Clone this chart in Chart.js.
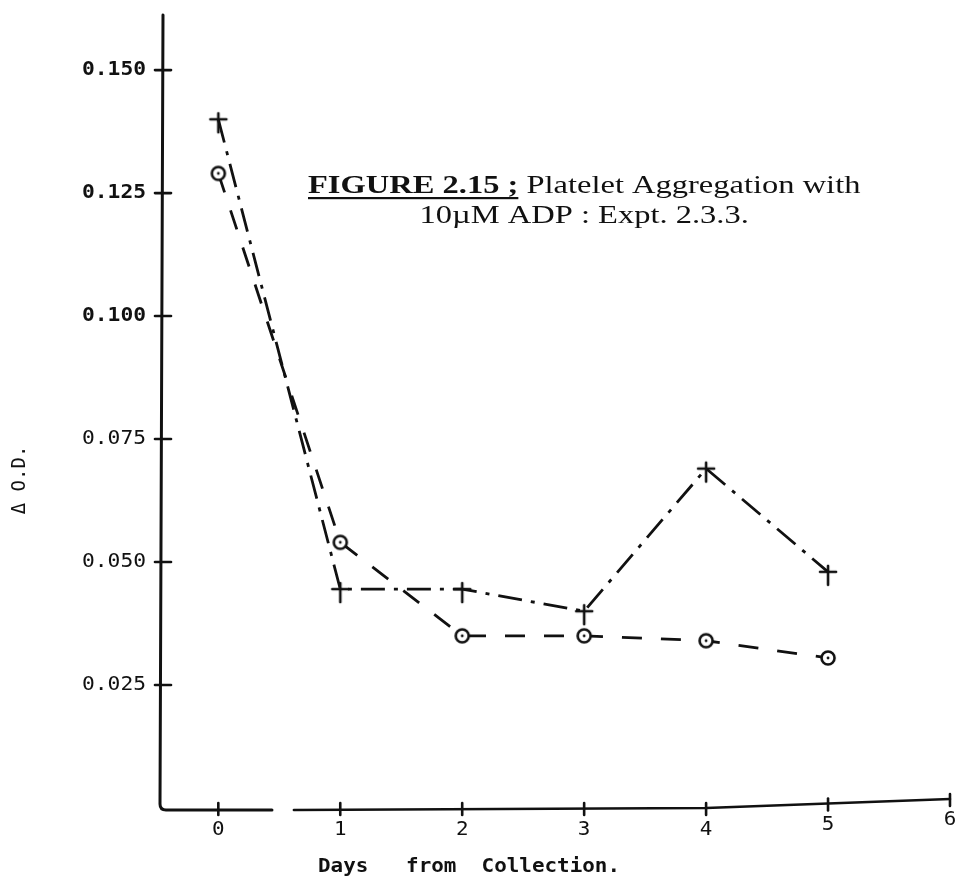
<!DOCTYPE html>
<html lang="en">
<head>
  <meta charset="UTF-8" />
  <title>Platelet Aggregation with 10µM ADP</title>
  <script src="https://cdn.jsdelivr.net/npm/chart.js"></script>
  <style>
    body { margin: 0; background: #fff; }
    #wrap { width: 962px; height: 881px; }
  </style>
</head>
<body>
  <div id="wrap"><canvas id="chartAgg" width="962" height="881"></canvas></div>

  <script>
    // days after collection and the two Δ O.D. series
    const days = [0, 1, 2, 3, 4, 5];
    const odCircle = [0.129, 0.054, 0.035, 0.035, 0.034, 0.0305];
    const odCross = [0.140, 0.0445, 0.0445, 0.040, 0.069, 0.048];

    const xTicks = [0, 1, 2, 3, 4, 5, 6];
    const xTickLabels = ['0', '1', '2', '3', '4', '5', '6'];
    const yTicks = [0.025, 0.050, 0.075, 0.100, 0.125, 0.150];
    const yTickLabels = ['0.025', '0.050', '0.075', '0.100', '0.125', '0.150'];

    const INK = '#111';
    const MONO = '"DejaVu Sans Mono"';
    const SERIF = '"Liberation Serif"';

    // circle with a dot in the middle
    function makeCircleMark() {
      const c = document.createElement('canvas');
      c.width = 20; c.height = 20;
      const g = c.getContext('2d');
      g.fillStyle = '#fff';
      g.strokeStyle = INK;
      g.lineWidth = 2.6;
      g.beginPath(); g.arc(10, 10, 6.5, 0, Math.PI * 2); g.fill(); g.stroke();
      g.fillStyle = INK;
      g.beginPath(); g.arc(10, 10, 1.4, 0, Math.PI * 2); g.fill();
      return c;
    }

    // dagger-like cross, bar sits on the data point
    function makeCrossMark() {
      const c = document.createElement('canvas');
      c.width = 24; c.height = 36;
      const g = c.getContext('2d');
      g.strokeStyle = INK;
      g.lineWidth = 2.6;
      g.lineCap = 'round';
      g.beginPath(); g.moveTo(4, 18); g.lineTo(20, 18); g.stroke();
      g.beginPath(); g.moveTo(12, 12); g.lineTo(12, 31); g.stroke();
      return c;
    }

    function drawText(ctx, text, x, y, font, align, sx) {
      ctx.save();
      ctx.translate(x, y);
      ctx.scale(sx || 1, 1);
      ctx.font = font;
      ctx.textAlign = align;
      ctx.fillText(text, 0, 0);
      ctx.restore();
    }

    const paperAxes = {
      id: 'paperAxes',
      beforeDatasetsDraw(chart) {
        const ctx = chart.ctx;
        const xs = chart.scales.x, ys = chart.scales.y;
        const a = chart.chartArea;
        ctx.save();
        ctx.strokeStyle = INK;
        ctx.lineCap = 'round';
        ctx.lineJoin = 'round';

        // y axis
        ctx.lineWidth = 3;
        ctx.beginPath();
        ctx.moveTo(a.left + 2, a.top);
        ctx.lineTo(a.left - 1, a.bottom - 4);
        ctx.quadraticCurveTo(a.left - 1, a.bottom + 2, a.left + 5, a.bottom + 2);
        ctx.lineTo(xs.getPixelForValue(0.44), a.bottom + 2);
        ctx.stroke();

        // x axis after the break, bending up a little past day 4
        ctx.lineWidth = 2.6;
        ctx.beginPath();
        ctx.moveTo(xs.getPixelForValue(0.62), a.bottom + 2);
        ctx.lineTo(xs.getPixelForValue(4), a.bottom);
        ctx.lineTo(xs.getPixelForValue(6), a.bottom - 9);
        ctx.stroke();

        // y ticks cross the axis
        ctx.lineWidth = 2.6;
        yTicks.forEach(v => {
          const y = ys.getPixelForValue(v);
          ctx.beginPath(); ctx.moveTo(a.left - 6, y); ctx.lineTo(a.left + 10, y); ctx.stroke();
        });

        // x ticks
        xTicks.forEach(v => {
          const x = xs.getPixelForValue(v);
          const yb = v <= 4 ? a.bottom + 1 : a.bottom + 1 - (v - 4) * 4.5;
          ctx.beginPath(); ctx.moveTo(x, yb - 6); ctx.lineTo(x, yb + 6); ctx.stroke();
        });

        ctx.fillStyle = INK;
        ctx.textBaseline = 'middle';

        // y tick labels, the upper ones typed heavier
        yTicks.forEach((v, i) => {
          const y = ys.getPixelForValue(v);
          const font = (v >= 0.1 ? 'bold ' : '') + '19px ' + MONO;
          drawText(ctx, yTickLabels[i], a.left - 15, y, font, 'right', 1.12);
        });

        // x tick labels
        xTicks.forEach((v, i) => {
          const x = xs.getPixelForValue(v);
          const y = v <= 4 ? a.bottom + 22 : a.bottom + 22 - (v - 4) * 5;
          drawText(ctx, xTickLabels[i], x, y, '19px ' + MONO, 'center', 1.1);
        });

        // axis titles
        drawText(ctx, 'Days   from  Collection.', 318, 867, 'bold 19px ' + MONO, 'left', 1.1);

        ctx.save();
        ctx.translate(20, 480);
        ctx.rotate(-Math.PI / 2);
        drawText(ctx, 'Δ O.D.', 0, 0, '19px ' + MONO, 'center', 1.0);
        ctx.restore();

        // caption
        ctx.textBaseline = 'alphabetic';
        const sx = 1.3;
        const boldFont = 'bold 25px ' + SERIF;
        const regFont = '25px ' + SERIF;
        const head = 'FIGURE 2.15 ;';
        ctx.font = boldFont;
        const headW = ctx.measureText(head).width * sx;
        const x0 = 308, base1 = 193;
        drawText(ctx, head, x0, base1, boldFont, 'left', sx);
        ctx.fillRect(x0, base1 + 4, headW, 2.2);
        drawText(ctx, ' Platelet Aggregation with', x0 + headW, base1, regFont, 'left', sx);
        ctx.font = regFont;
        const restW = ctx.measureText(' Platelet Aggregation with').width * sx;
        const mid = x0 + (headW + restW) / 2;
        drawText(ctx, '10µM ADP : Expt. 2.3.3.', mid, base1 + 30, regFont, 'center', sx);

        ctx.restore();
      }
    };

    const ctx = document.getElementById('chartAgg').getContext('2d');
    new Chart(ctx, {
      type: 'line',
      data: {
        datasets: [
          {
            label: 'o',
            data: days.map((d, i) => ({ x: d, y: odCircle[i] })),
            borderColor: INK,
            borderWidth: 2.8,
            borderDash: [20, 19],
            pointStyle: makeCircleMark(),
            pointRadius: 8,
            fill: false,
            tension: 0
          },
          {
            label: '+',
            data: days.map((d, i) => ({ x: d, y: odCross[i] })),
            borderColor: INK,
            borderWidth: 2.8,
            borderDash: [24, 9, 4, 9],
            pointStyle: makeCrossMark(),
            pointRadius: 8,
            fill: false,
            tension: 0
          }
        ]
      },
      options: {
        responsive: false,
        animation: false,
        layout: { padding: { left: 161, top: 15, right: 2, bottom: 73 } },
        plugins: { legend: { display: false }, tooltip: { enabled: false } },
        scales: {
          x: { type: 'linear', display: false, min: -0.47, max: 6.01 },
          y: { type: 'linear', display: false, min: 0, max: 0.1612 }
        }
      },
      plugins: [paperAxes]
    });
  </script>
</body>
</html>
